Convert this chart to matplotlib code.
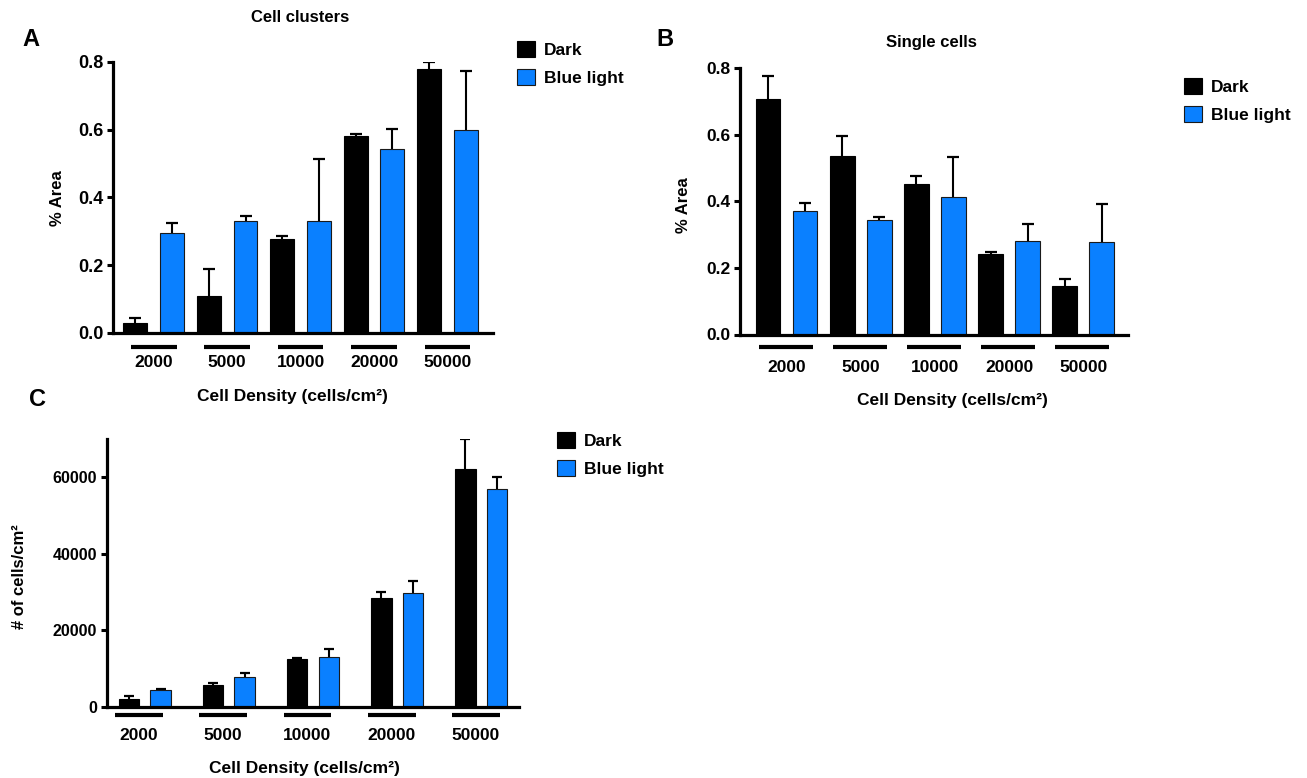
import numpy as np
import matplotlib
matplotlib.use("Agg")
import matplotlib.pyplot as plt
from matplotlib.transforms import offset_copy

plt.rcParams['font.family'] = ['Liberation Sans', 'DejaVu Sans']
plt.rcParams['font.weight'] = 'bold'
plt.rcParams['font.size'] = 12

W, H = 1307, 778
DPI = 100

densities = ["2000", "5000", "10000", "20000", "50000"]
series = ["Dark", "Blue light"]
colors = ["black", "#0a80ff"]

# panel A: cell clusters (% area), mean and error
clusters_dark = [0.030, 0.110, 0.277, 0.582, 0.779]
clusters_dark_err = [0.014, 0.080, 0.009, 0.005, 0.020]
clusters_blue = [0.296, 0.332, 0.331, 0.543, 0.598]
clusters_blue_err = [0.029, 0.014, 0.182, 0.058, 0.174]

# panel B: single cells (% area)
single_dark = [0.708, 0.535, 0.452, 0.242, 0.146]
single_dark_err = [0.067, 0.062, 0.024, 0.005, 0.021]
single_blue = [0.370, 0.343, 0.413, 0.281, 0.277]
single_blue_err = [0.026, 0.009, 0.120, 0.051, 0.115]

# panel C: number of cells per cm2
count_dark = [2200, 5700, 12550, 28350, 62200]
count_dark_err = [800, 600, 260, 1650, 7700]
count_blue = [4560, 7900, 13160, 29650, 56840]
count_blue_err = [180, 880, 2100, 3330, 3160]


def px_axes(left, top, right, bottom):
    return fig.add_axes([left / W, 1 - bottom / H, (right - left) / W, (bottom - top) / H])


def style_axes(ax, tick_size):
    for s in ["top", "right"]:
        ax.spines[s].set_visible(False)
    for s in ["left", "bottom"]:
        ax.spines[s].set_linewidth(2.3)
    ax.tick_params(axis="y", length=4.5, width=2.2, pad=2.5, labelsize=tick_size)
    ax.tick_params(axis="x", length=0, labelbottom=False)
    for lab in ax.get_yticklabels():
        lab.set_fontweight("bold")


def draw_bars(ax, x_dark, x_blue, width, dark, dark_err, blue, blue_err, cap):
    # error bars sit behind the bars so only the upper half shows
    ax.errorbar(x_dark, dark, yerr=dark_err, fmt="none", ecolor="black",
                elinewidth=1.5, capsize=cap, capthick=1.6, zorder=1)
    ax.errorbar(x_blue, blue, yerr=blue_err, fmt="none", ecolor="black",
                elinewidth=1.5, capsize=cap, capthick=1.6, zorder=1)
    ax.bar(x_dark, dark, width, color=colors[0], edgecolor="black", linewidth=0.8, label=series[0], zorder=2)
    ax.bar(x_blue, blue, width, color=colors[1], edgecolor="#1a1a1a", linewidth=0.8, label=series[1], zorder=2)


def group_marks(ax, centers, half_left, half_right, label_shift, line_px, label_px):
    line_tr = offset_copy(ax.get_xaxis_transform(), fig=fig, y=-line_px * 72 / DPI, units="points")
    lab_tr = offset_copy(ax.get_xaxis_transform(), fig=fig, y=-label_px * 72 / DPI, units="points")
    for c, name in zip(centers, densities):
        ax.plot([c - half_left, c + half_right], [0, 0], color="black", lw=3.0,
                solid_capstyle="butt", transform=line_tr, clip_on=False)
        ax.text(c + label_shift, 0, name, transform=lab_tr, ha="center", va="center",
                fontsize=12.5, fontweight="bold")


def legend_at(ax, x, y):
    ax.legend(loc="upper left", bbox_to_anchor=(x / W, 1 - y / H), bbox_transform=fig.transFigure,
              frameon=False, borderpad=0, borderaxespad=0, handlelength=1.05, handleheight=1.05,
              handletextpad=0.5, labelspacing=0.65, prop={"weight": "bold", "size": 12.5})


fig = plt.figure(figsize=(W / DPI, H / DPI), dpi=DPI)

# ---- panel A
axA = px_axes(113, 62, 493, 333)
idx = np.arange(5)
draw_bars(axA, idx * 2, idx * 2 + 1, 0.65, clusters_dark, clusters_dark_err,
          clusters_blue, clusters_blue_err, 4.2)
axA.set_xlim(-0.61, 9.74)
axA.set_ylim(0, 0.8)
axA.set_yticks([0.0, 0.2, 0.4, 0.6, 0.8])
axA.set_yticklabels(["0.0", "0.2", "0.4", "0.6", "0.8"])
style_axes(axA, 13)
group_marks(axA, idx * 2 + 0.5, 0.62, 0.62, 0.0, 14, 30)
legend_at(axA, 517, 41)

# ---- panel B
axB = px_axes(740, 68, 1128, 334.5)
draw_bars(axB, idx * 2, idx * 2 + 1, 0.66, single_dark, single_dark_err,
          single_blue, single_blue_err, 4.2)
axB.set_xlim(-0.76, 9.71)
axB.set_ylim(0, 0.8)
axB.set_yticks([0.0, 0.2, 0.4, 0.6, 0.8])
axB.set_yticklabels(["0.0", "0.2", "0.4", "0.6", "0.8"])
style_axes(axB, 12.5)
group_marks(axB, idx * 2 + 0.5, 0.75, 0.70, 0.0, 12.5, 33.5)
legend_at(axB, 1184, 78)

# ---- panel C
axC = px_axes(107, 438.7, 519, 707)
draw_bars(axC, idx - 0.188, idx + 0.188, 0.245, count_dark, count_dark_err,
          count_blue, count_blue_err, 3.4)
axC.set_xlim(-0.45, 4.45)
axC.set_ylim(0, 70000)
axC.set_yticks([0, 20000, 40000, 60000])
axC.set_yticklabels(["0", "20000", "40000", "60000"])
style_axes(axC, 11.5)
group_marks(axC, idx, 0.35, 0.22, -0.07, 8, 28)
legend_at(axC, 557, 432)

# ---- texts
fig.text(300 / W, 1 - 18 / H, "Cell clusters", ha="center", va="center", fontsize=12, fontweight="bold")
fig.text(931 / W, 1 - 42 / H, "Single cells", ha="center", va="center", fontsize=12, fontweight="bold")
fig.text(292 / W, 1 - 397 / H, "Cell Density (cells/cm²)", ha="center", va="center", fontsize=12.5, fontweight="bold")
fig.text(952 / W, 1 - 400 / H, "Cell Density (cells/cm²)", ha="center", va="center", fontsize=12.5, fontweight="bold")
fig.text(304 / W, 1 - 768 / H, "Cell Density (cells/cm²)", ha="center", va="center", fontsize=12.5, fontweight="bold")
fig.text(57 / W, 1 - 198 / H, "% Area", rotation=90, ha="center", va="center", fontsize=12, fontweight="bold")
fig.text(684 / W, 1 - 205 / H, "% Area", rotation=90, ha="center", va="center", fontsize=12, fontweight="bold")
fig.text(20 / W, 1 - 577 / H, "# of cells/cm²", rotation=90, ha="center", va="center", fontsize=12, fontweight="bold")
fig.text(31 / W, 1 - 40 / H, "A", ha="center", va="center", fontsize=17, fontweight="bold")
fig.text(665 / W, 1 - 40 / H, "B", ha="center", va="center", fontsize=17, fontweight="bold")
fig.text(37 / W, 1 - 400 / H, "C", ha="center", va="center", fontsize=17, fontweight="bold")

fig.savefig("out.png", dpi=DPI)
